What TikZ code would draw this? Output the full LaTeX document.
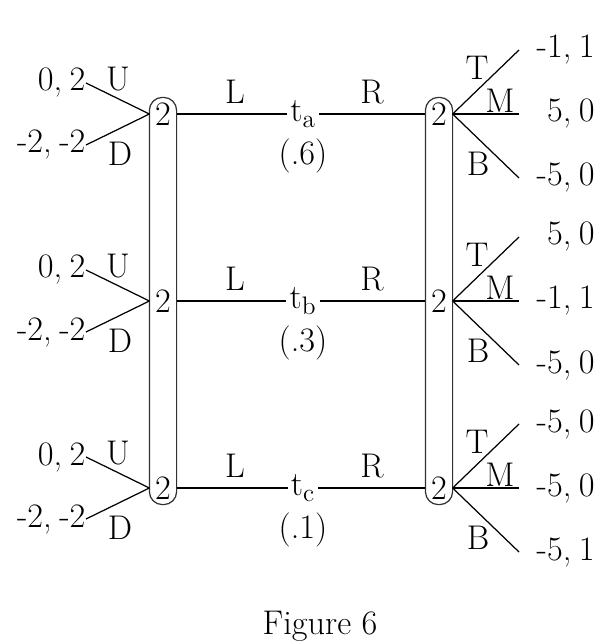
\documentclass[tikz,border=0pt]{standalone}
\usepackage{tikz}
\usetikzlibrary{positioning}
\definecolor{boxgray}{RGB}{50,50,50}
\newcommand{\pay}[2]{#1,\hspace{0.22em}#2}

\begin{document}
\begin{tikzpicture}[x=0.02cm,y=-0.02cm,line width=0.7pt,every node/.style={font=\fontsize{19.5}{22}\selectfont}]
\tikzstyle{dn}=[minimum width=0.52cm,minimum height=0.64cm,inner sep=0]
\tikzstyle{lp}=[anchor=east,inner sep=0]
\tikzstyle{rp}=[anchor=west,inner sep=0,text width=1.5cm,align=right]
\tikzstyle{tn}=[inner sep=1.5pt]
\tikzstyle{iset}=[draw=boxgray,rounded corners=0.26cm]
\useasboundingbox (0,0) rectangle (604,644);
% player 2 nodes
\node[dn] (l1) at (163,114) {2};
\node[dn] (l2) at (163,301) {2};
\node[dn] (l3) at (163,488) {2};
\node[dn] (r1) at (439,114) {2};
\node[dn] (r2) at (439,301) {2};
\node[dn] (r3) at (439,488) {2};
\draw[iset] (l1.north west) rectangle (l3.south east);
\draw[iset] (r1.north west) rectangle (r3.south east);
% types
\node[tn] (ta) at (303,114) {t$_{\mathrm{a}}$};
\node[tn] (tb) at (303,301) {t$_{\mathrm{b}}$};
\node[tn] (tc) at (303,488) {t$_{\mathrm{c}}$};
\node[below=0.3mm of ta] {(.6)};
\node[below=0.3mm of tb] {(.3)};
\node[below=0.3mm of tc] {(.1)};
\draw (l1.east) -- (ta.west); \draw (ta.east) -- (r1.west);
\draw (l2.east) -- (tb.west); \draw (tb.east) -- (r2.west);
\draw (l3.east) -- (tc.west); \draw (tc.east) -- (r3.west);
\node at (235,92) {L}; \node at (372,92) {R};
\node at (235,279) {L}; \node at (372,279) {R};
\node at (235,466) {L}; \node at (372,466) {R};
% left payoffs
\node[lp] (lu1) at (86,83)  {\pay{0}{2}};
\node[lp] (ld1) at (86,145) {\pay{-2}{-2}};
\node[lp] (lu2) at (86,270) {\pay{0}{2}};
\node[lp] (ld2) at (86,332) {\pay{-2}{-2}};
\node[lp] (lu3) at (86,457) {\pay{0}{2}};
\node[lp] (ld3) at (86,519) {\pay{-2}{-2}};
\draw (l1.west) -- (lu1.east); \draw (l1.west) -- (ld1.east);
\draw (l2.west) -- (lu2.east); \draw (l2.west) -- (ld2.east);
\draw (l3.west) -- (lu3.east); \draw (l3.west) -- (ld3.east);
\node at (118,79) {U};  \node at (120,154) {D};
\node at (118,266) {U}; \node at (120,341) {D};
\node at (118,453) {U}; \node at (120,528) {D};
% right payoffs
\node[rp] (rt1) at (519,50)  {\pay{-1}{1}};
\node[rp] (rm1) at (519,114) {\pay{5}{0}};
\node[rp] (rb1) at (519,178) {\pay{-5}{0}};
\node[rp] (rt2) at (519,237) {\pay{5}{0}};
\node[rp] (rm2) at (519,301) {\pay{-1}{1}};
\node[rp] (rb2) at (519,365) {\pay{-5}{0}};
\node[rp] (rt3) at (519,424) {\pay{-5}{0}};
\node[rp] (rm3) at (519,488) {\pay{-5}{0}};
\node[rp] (rb3) at (519,552) {\pay{-5}{1}};
\draw (r1.east) -- (rt1.west); \draw (r1.east) -- (rm1.west); \draw (r1.east) -- (rb1.west);
\draw (r2.east) -- (rt2.west); \draw (r2.east) -- (rm2.west); \draw (r2.east) -- (rb2.west);
\draw (r3.east) -- (rt3.west); \draw (r3.east) -- (rm3.west); \draw (r3.east) -- (rb3.west);
\node at (477,68) {T};  \node at (500,101) {M}; \node at (478,164) {B};
\node at (477,255) {T}; \node at (500,288) {M}; \node at (478,351) {B};
\node at (477,442) {T}; \node at (500,475) {M}; \node at (478,538) {B};
\node (cap) at (320,626) {Figure 6};
\end{tikzpicture}
\end{document}
